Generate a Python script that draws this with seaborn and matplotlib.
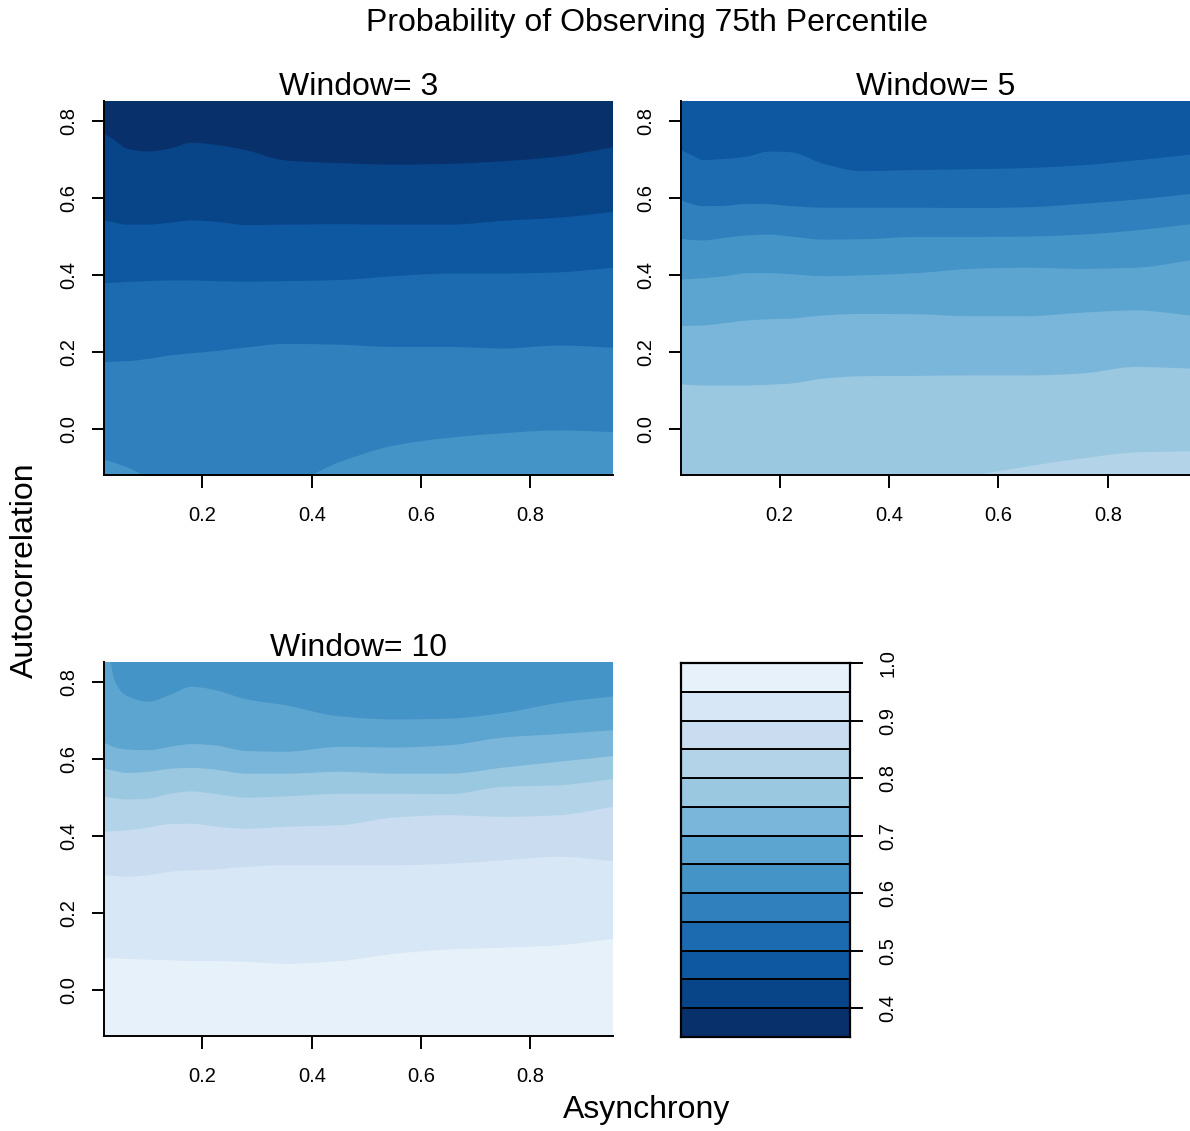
import numpy as np
import matplotlib
matplotlib.use("Agg")
import matplotlib.pyplot as plt
import seaborn as sns

# Probability levels used for the filled contours and the key
levels = [0.35, 0.40, 0.45, 0.50, 0.55, 0.60, 0.65, 0.70, 0.75, 0.80, 0.85, 0.90, 0.95, 1.00]

# Asynchrony positions at which the contour heights are given
asynchrony = [0.02, 0.04, 0.06, 0.10, 0.14, 0.18, 0.22, 0.28, 0.35, 0.45, 0.55, 0.65, 0.75, 0.85, 0.95]

# Window = 3 : autocorrelation of each probability contour
w3_c40 = [0.768, 0.750, 0.730, 0.722, 0.730, 0.745, 0.740, 0.725, 0.699, 0.692, 0.688, 0.690, 0.697, 0.709, 0.733]
w3_c45 = [0.543, 0.537, 0.532, 0.532, 0.537, 0.543, 0.540, 0.531, 0.532, 0.533, 0.532, 0.532, 0.542, 0.550, 0.565]
w3_c50 = [0.380, 0.381, 0.383, 0.385, 0.387, 0.387, 0.385, 0.384, 0.385, 0.388, 0.398, 0.405, 0.405, 0.408, 0.420]
w3_c55 = [0.175, 0.176, 0.177, 0.183, 0.192, 0.198, 0.203, 0.213, 0.222, 0.220, 0.214, 0.214, 0.210, 0.218, 0.212]
w3_c60 = [-0.079, -0.088, -0.098, -0.124, -0.140, -0.140, -0.140, -0.140, -0.140, -0.085, -0.042, -0.022, -0.010, -0.003, -0.007]

# Window = 5
w5_c50 = [0.725, 0.712, 0.700, 0.703, 0.709, 0.722, 0.720, 0.690, 0.671, 0.674, 0.676, 0.679, 0.686, 0.699, 0.714]
w5_c55 = [0.595, 0.585, 0.580, 0.581, 0.586, 0.585, 0.580, 0.576, 0.576, 0.576, 0.575, 0.577, 0.586, 0.597, 0.612]
w5_c60 = [0.495, 0.492, 0.491, 0.498, 0.504, 0.506, 0.501, 0.493, 0.494, 0.500, 0.500, 0.501, 0.506, 0.517, 0.533]
w5_c65 = [0.389, 0.391, 0.393, 0.398, 0.406, 0.406, 0.403, 0.398, 0.400, 0.406, 0.417, 0.420, 0.417, 0.420, 0.439]
w5_c70 = [0.268, 0.269, 0.270, 0.276, 0.283, 0.286, 0.288, 0.296, 0.300, 0.299, 0.294, 0.294, 0.303, 0.309, 0.296]
w5_c75 = [0.117, 0.115, 0.114, 0.114, 0.114, 0.116, 0.119, 0.132, 0.138, 0.139, 0.140, 0.140, 0.145, 0.162, 0.158]
w5_c80 = [-0.160, -0.160, -0.160, -0.160, -0.160, -0.160, -0.160, -0.160, -0.160, -0.160, -0.122, -0.097, -0.076, -0.060, -0.057]

# Window = 10
w10_c65 = [0.950, 0.800, 0.766, 0.750, 0.768, 0.789, 0.781, 0.756, 0.741, 0.712, 0.704, 0.706, 0.721, 0.747, 0.764]
w10_c70 = [0.643, 0.631, 0.626, 0.624, 0.633, 0.640, 0.637, 0.622, 0.620, 0.633, 0.631, 0.637, 0.657, 0.666, 0.676]
w10_c75 = [0.576, 0.570, 0.565, 0.568, 0.576, 0.578, 0.574, 0.563, 0.563, 0.568, 0.563, 0.563, 0.579, 0.594, 0.609]
w10_c80 = [0.503, 0.499, 0.496, 0.498, 0.511, 0.517, 0.511, 0.501, 0.504, 0.511, 0.511, 0.510, 0.529, 0.533, 0.549]
w10_c85 = [0.412, 0.414, 0.416, 0.423, 0.432, 0.433, 0.426, 0.420, 0.425, 0.429, 0.449, 0.455, 0.451, 0.455, 0.477]
w10_c90 = [0.299, 0.297, 0.295, 0.299, 0.308, 0.312, 0.314, 0.321, 0.325, 0.325, 0.325, 0.329, 0.338, 0.347, 0.336]
w10_c95 = [0.084, 0.083, 0.082, 0.080, 0.078, 0.076, 0.076, 0.074, 0.069, 0.076, 0.095, 0.106, 0.111, 0.117, 0.134]

panels = [
    ("Window= 3", 0.35, [w3_c40, w3_c45, w3_c50, w3_c55, w3_c60]),
    ("Window= 5", 0.45, [w5_c50, w5_c55, w5_c60, w5_c65, w5_c70, w5_c75, w5_c80]),
    ("Window= 10", 0.60, [w10_c65, w10_c70, w10_c75, w10_c80, w10_c85, w10_c90, w10_c95]),
]

sns.set_style("white")
plt.rcParams["font.family"] = ["Liberation Sans", "DejaVu Sans"]
plt.rcParams["text.color"] = "black"
plt.rcParams["axes.labelcolor"] = "black"
plt.rcParams["xtick.color"] = "black"
plt.rcParams["ytick.color"] = "black"

blues = sns.color_palette("Blues", as_cmap=True)
band_colors = [blues(v) for v in np.linspace(1.0, 0.08, len(levels) - 1)]


def smooth_curve(x, y, xf):
    """Monotone cubic (Fritsch-Carlson) curve through the given contour heights."""
    x = np.asarray(x, float)
    y = np.asarray(y, float)
    h = np.diff(x)
    delta = np.diff(y) / h
    d = np.zeros_like(y)
    d[0], d[-1] = delta[0], delta[-1]
    for k in range(1, len(y) - 1):
        if delta[k - 1] * delta[k] > 0:
            w1 = 2 * h[k] + h[k - 1]
            w2 = h[k] + 2 * h[k - 1]
            d[k] = (w1 + w2) / (w1 / delta[k - 1] + w2 / delta[k])
    seg = np.clip(np.searchsorted(x, xf) - 1, 0, len(x) - 2)
    t = (xf - x[seg]) / h[seg]
    h00 = 2 * t**3 - 3 * t**2 + 1
    h10 = t**3 - 2 * t**2 + t
    h01 = -2 * t**3 + 3 * t**2
    h11 = t**3 - t**2
    return (h00 * y[seg] + h10 * h[seg] * d[seg]
            + h01 * y[seg + 1] + h11 * h[seg] * d[seg + 1])


W, H = 1190, 1131
fig = plt.figure(figsize=(W / 100, H / 100), dpi=100)


def rect(left, top, right, bottom):
    return [left / W, 1 - bottom / H, (right - left) / W, (bottom - top) / H]


axes = [
    fig.add_axes(rect(104, 101, 612.5, 475)),
    fig.add_axes(rect(681, 101, 1190, 475)),
    fig.add_axes(rect(104, 662, 612.5, 1036)),
]
key_ax = fig.add_axes(rect(681, 663, 850, 1037))

xf = np.linspace(asynchrony[0], asynchrony[-1], 600)
for ax, (title, top_level, contours) in zip(axes, panels):
    idx = int(round((top_level - levels[0]) / 0.05))
    # paint the top band over everything, then each lower band up to its contour
    ax.fill_between(xf, -0.3, 1.0, color=band_colors[idx], linewidth=0)
    for k, c in enumerate(contours, start=1):
        ax.fill_between(xf, -0.3, smooth_curve(asynchrony, c, xf),
                        color=band_colors[idx + k], linewidth=0)
    ax.set_xlim(0.02, 0.95)
    ax.set_ylim(-0.12, 0.852)
    for side in ("top", "right"):
        ax.spines[side].set_visible(False)
    for side in ("left", "bottom"):
        ax.spines[side].set_color("black")
        ax.spines[side].set_linewidth(1.4)
    ax.set_xticks([0.2, 0.4, 0.6, 0.8])
    ax.set_xticklabels(["0.2", "0.4", "0.6", "0.8"])
    ax.set_yticks([0.0, 0.2, 0.4, 0.6, 0.8])
    ax.set_yticklabels(["0.0", "0.2", "0.4", "0.6", "0.8"], rotation=90, va="center")
    ax.tick_params(axis="both", direction="out", length=9, width=1.4, colors="black",
                   labelsize=14.5, left=True, bottom=True)
    ax.tick_params(axis="x", pad=13)
    ax.tick_params(axis="y", pad=9.5)
    ax.set_title(title, fontsize=23, pad=4)

# colour key
key_ax.bar(np.zeros(len(levels) - 1), np.diff(levels), bottom=levels[:-1], width=1.0,
           color=band_colors, edgecolor="black", linewidth=1.4, align="center")
key_ax.set_xlim(-0.5, 0.5)
key_ax.set_ylim(0.35, 1.0)
key_ax.set_xticks([])
for side in key_ax.spines.values():
    side.set_color("black")
    side.set_linewidth(1.6)
key_ax.yaxis.tick_right()
key_ax.set_yticks([0.4, 0.5, 0.6, 0.7, 0.8, 0.9, 1.0])
key_ax.set_yticklabels(["0.4", "0.5", "0.6", "0.7", "0.8", "0.9", "1.0"], rotation=90, va="center")
key_ax.tick_params(axis="y", direction="out", length=9.5, width=1.4, colors="black",
                   labelsize=14.5, pad=11, right=True, left=False)

fig.text(647 / W, 1 - 23 / H, "Probability of Observing 75th Percentile",
         fontsize=23, ha="center", va="center")
fig.text(647 / W, 1 - 1110 / H, "Asynchrony", fontsize=23, ha="center", va="center")
fig.text(25 / W, 1 - 570 / H, "Autocorrelation", fontsize=23, ha="center", va="center",
         rotation=90)

fig.savefig("out.png", dpi=100, facecolor="white")
